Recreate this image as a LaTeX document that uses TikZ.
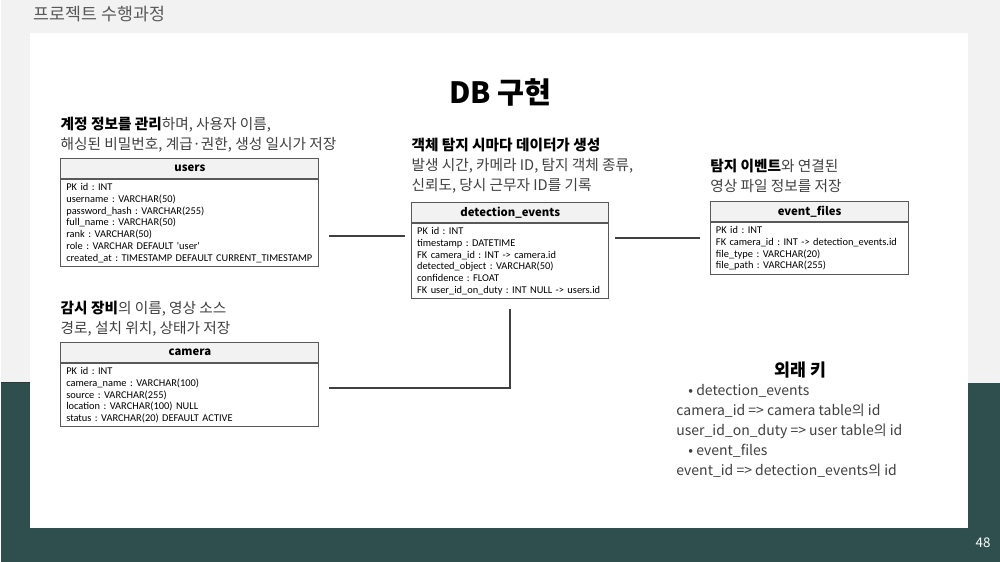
\documentclass[tikz,border=0pt]{standalone}
\usepackage{fontspec}
\setmainfont{Noto Sans CJK KR}
\newfontfamily\tblfont{Carlito}
\usepackage{tikz}
\usetikzlibrary{
  arrows.meta, positioning, calc
}
\usepackage{xcolor}
\definecolor{slidebg}{HTML}{F2F2F2}
\definecolor{slideteal}{HTML}{2F4F4F}
\definecolor{textgray}{HTML}{404040}
\definecolor{linegray}{HTML}{595959}
\newcommand{\dbhl}[1]{\textcolor{black}{\textbf{#1}}}
\frenchspacing

\tikzset{
  tblhead/.style={draw=linegray, fill=slidebg, line width=0.75pt,
    anchor=north west, minimum height=15pt, inner sep=0pt,
    font=\fontsize{8.5}{10}\selectfont\bfseries},
  tblbody/.style={draw=linegray, fill=white, line width=0.75pt,
    inner xsep=4pt, inner ysep=3pt, align=left,
    font=\tblfont\fontsize{7.8}{8.8}\selectfont\frenchspacing},
  desc/.style={inner sep=0pt, align=left, text=textgray,
    font=\fontsize{11}{15}\selectfont},
  link/.style={draw=textgray, line width=1.5pt}
}

\begin{document}
\begin{tikzpicture}[x=0.75pt, y=-0.75pt]
    % slide background
    \fill[slidebg] (0,0) rectangle (1000,562);
    \fill[slideteal] (0,383) rectangle (1000,562);
    \draw[black!80, line width=0.75pt] (0,383) -- (30,383);
    \fill[white] (30,33) rectangle (968,528);
    \node[anchor=west, inner sep=0pt, text=linegray, font=\fontsize{13}{15}\selectfont] (sec) at (33,14) {프로젝트 수행과정};
    \node[text=white, font=\fontsize{10}{12}\selectfont] (pnum) at (983,543) {48};
    \node[font=\fontsize{22}{26}\selectfont\bfseries] (title) at (500,93) {DB 구현};

    % users
    \node[tblhead, minimum width=193.5pt] (uhead) at (60,158) {users};
    \node[tblbody, below=0pt of uhead, text width=185.5pt] (ubody) {
      PK id : INT\\
      username : VARCHAR(50)\\
      password\_hash : VARCHAR(255)\\
      full\_name : VARCHAR(50)\\
      rank : VARCHAR(50)\\
      role : VARCHAR DEFAULT 'user'\\
      created\_at : TIMESTAMP DEFAULT CURRENT\_TIMESTAMP};
    \node[desc, anchor=south west] (udesc) at ([yshift=4pt]uhead.north west) {
      \dbhl{계정 정보를 관리}하며, 사용자 이름,\\
      해싱된 비밀번호, 계급·권한, 생성 일시가 저장};

    % detection_events
    \node[tblhead, minimum width=147.75pt] (dhead) at (411,202) {detection\_events};
    \node[tblbody, below=0pt of dhead, text width=139.75pt] (dbody) {
      PK id : INT\\
      timestamp : DATETIME\\
      FK camera\_id : INT -> camera.id\\
      detected\_object : VARCHAR(50)\\
      confidence : FLOAT\\
      FK user\_id\_on\_duty : INT NULL -> users.id};
    \node[desc, anchor=south west] (ddesc) at ([yshift=6pt]dhead.north west) {
      \dbhl{객체 탐지 시마다 데이터가 생성}\\
      발생 시간, 카메라 ID, 탐지 객체 종류,\\
      신뢰도, 당시 근무자 ID를 기록};

    % event_files
    \node[tblhead, minimum width=148.5pt] (ehead) at (710,201) {event\_files};
    \node[tblbody, below=0pt of ehead, text width=140.5pt] (ebody) {
      PK id : INT\\
      FK camera\_id : INT -> detection\_events.id\\
      file\_type : VARCHAR(20)\\
      file\_path : VARCHAR(255)};
    \node[desc, anchor=south west] (edesc) at ([yshift=6pt]ehead.north west) {
      \dbhl{탐지 이벤트}와 연결된\\
      영상 파일 정보를 저장};

    % camera
    \node[tblhead, minimum width=193.5pt] (chead) at (60,342) {camera};
    \node[tblbody, below=0pt of chead, text width=185.5pt] (cbody) {
      PK id : INT\\
      camera\_name : VARCHAR(100)\\
      source : VARCHAR(255)\\
      location : VARCHAR(100) NULL\\
      status : VARCHAR(20) DEFAULT ACTIVE};
    \node[desc, anchor=south west] (cdesc) at ([yshift=4pt]chead.north west) {
      \dbhl{감시 장비}의 이름, 영상 소스\\
      경로, 설치 위치, 상태가 저장};

    % links
    \coordinate (ur) at ([shift={(10,13.5)}]ubody.east);
    \draw[link, shorten >=5pt] (ur) -- (ur -| dbody.west);
    \coordinate (dr) at ([shift={(6,-23.5)}]dbody.east);
    \draw[link, shorten >=7.5pt] (dr) -- (dr -| ebody.west);
    \coordinate (cr) at ([shift={(10,-7)}]cbody.east);
    \draw[link, shorten >=7.5pt] (cr) -| (dbody.south);

    % foreign keys
    \node[font=\fontsize{13}{15}\selectfont\bfseries] (fktitle) at (800,370) {외래 키};
    \node[desc, anchor=north west, font=\fontsize{10.5}{15}\selectfont] (fklist) at (676,384) {
      \hspace*{9pt}• detection\_events\\
      camera\_id => camera table의 id\\
      user\_id\_on\_duty => user table의 id\\
      \hspace*{9pt}• event\_files\\
      event\_id => detection\_events의 id};
\end{tikzpicture}
\end{document}
